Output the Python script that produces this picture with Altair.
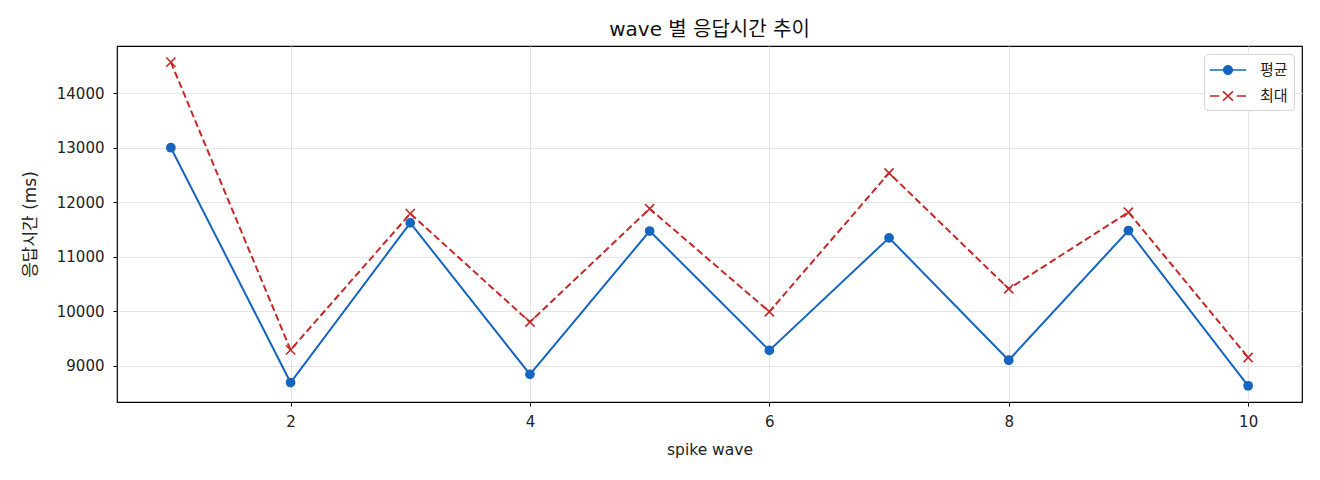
import altair as alt
import pandas as pd

waves = [1, 2, 3, 4, 5, 6, 7, 8, 9, 10]
avg_ms = [13000, 8690, 11620, 8840, 11470, 9280, 11345, 9100, 11480, 8630]
max_ms = [14570, 9290, 11790, 9800, 11880, 9990, 12535, 10410, 11815, 9150]
series_names = ["평균", "최대"]
series_colors = ["#1565c0", "#c62828"]
x_ticks = [2, 4, 6, 8, 10]
y_ticks = [9000, 10000, 11000, 12000, 13000, 14000]

FONT = "DejaVu Sans, Noto Sans CJK KR"
KFONT = "Noto Sans CJK KR"

# marker shapes (vega custom symbol paths)
X_PATH = "M-1,-1L1,1M-1,1L1,-1"
# legend symbols: line + marker as filled outlines, wider than the symbol box
LEG_AVG = ("M-1,-0.08L2.6,-0.08L2.6,0.08L-1,0.08Z "
           "M1.3,0 C1.3,0.276 1.076,0.5 0.8,0.5 "
           "C0.524,0.5 0.3,0.276 0.3,0 C0.3,-0.276 0.524,-0.5 0.8,-0.5 "
           "C1.076,-0.5 1.3,-0.276 1.3,0 Z")
LEG_MAX = ("M-1,-0.08L-0.07,-0.08L-0.07,0.08L-1,0.08Z "
           "M1.67,-0.08L2.6,-0.08L2.6,0.08L1.67,0.08Z "
           "M0.245,-0.412L1.245,0.528L1.355,0.412L0.355,-0.528Z "
           "M0.355,0.528L1.355,-0.412L1.245,-0.528L0.245,0.412Z")

df = pd.DataFrame({
    "wave": waves * 2,
    "ms": avg_ms + max_ms,
    "series": [series_names[0]] * len(waves) + [series_names[1]] * len(waves),
})

base = alt.Chart(df).encode(
    x=alt.X(
        "wave:Q",
        title="spike wave",
        scale=alt.Scale(domain=[0.55, 10.45], nice=False, zero=False),
        axis=alt.Axis(values=x_ticks, format="d", titlePadding=13, titleFontSize=15.5,
                      tickSize=4, labelPadding=8),
    ),
    y=alt.Y(
        "ms:Q",
        title="응답시간 (ms)",
        scale=alt.Scale(domain=[8333, 14866], nice=False, zero=False),
        axis=alt.Axis(values=y_ticks, format="d", titlePadding=17, titleFontSize=17,
                      tickSize=4, labelPadding=9),
    ),
)

avg = base.transform_filter(alt.datum.series == series_names[0])
mx = base.transform_filter(alt.datum.series == series_names[1])

avg_line = avg.mark_line(strokeWidth=2, color=series_colors[0])
max_line = mx.mark_line(strokeWidth=2, color=series_colors[1], strokeDash=[7, 3.5])

avg_pts = avg.mark_point(
    shape="circle", filled=True, size=95, opacity=1, color=series_colors[0]
)
max_pts = mx.mark_point(
    shape=X_PATH, filled=False, size=85, strokeWidth=1.6, opacity=1,
    color=series_colors[1]
)

# empty layer that only provides the legend (domains are explicit)
cscale = alt.Scale(domain=series_names, range=series_colors)
legend_layer = base.transform_filter(alt.datum.ms < 0).mark_point(
    filled=True, opacity=1
).encode(
    color=alt.Color(
        "series:N",
        scale=cscale,
        legend=alt.Legend(
            title=None,
            orient="top-right",
            offset=8,
            padding=6,
            fillColor="white",
            strokeColor="#d5d5d5",
            cornerRadius=4,
            symbolSize=400,
            symbolStrokeWidth=0,
            labelOffset=30,
            rowPadding=8,
            labelFont=KFONT,
            labelFontSize=15,
            labelColor="#222222",
        ),
    ),
    shape=alt.Shape("series:N", scale=alt.Scale(domain=series_names, range=[LEG_AVG, LEG_MAX])),
)

chart = alt.layer(avg_line, max_line, avg_pts, max_pts, legend_layer).properties(
    width=1185,
    height=356,
    autosize=alt.AutoSizeParams(type="none"),
    padding={"left": 109, "top": 38, "right": 10, "bottom": 64},
    title=alt.Title(
        "wave 별 응답시간 추이",
        font=FONT,
        fontSize=20,
        fontWeight="normal",
        color="#111111",
        anchor="middle",
        frame="group",
        offset=6,
    ),
).configure_view(
    stroke="black", strokeWidth=1.2
).configure_axis(
    domain=False,
    labelFont=FONT,
    labelFontSize=15,
    labelColor="#222222",
    titleFont=FONT,
    titleFontWeight="normal",
    titleColor="#222222",
    tickColor="black",
    gridColor="#e4e4e4",
    gridWidth=1,
)

chart.save("out.html", embed_options={"renderer": "svg", "actions": False})
